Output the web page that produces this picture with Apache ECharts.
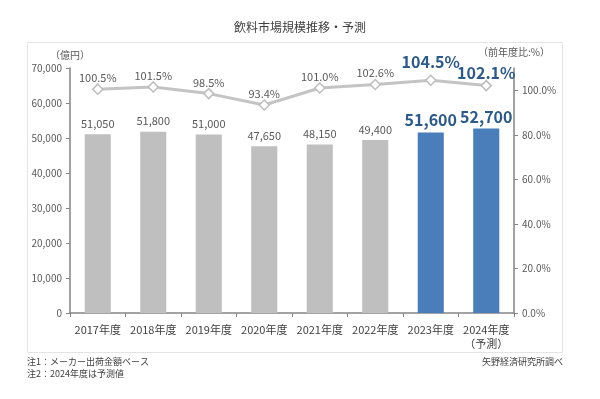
<!DOCTYPE html>
<html>
<head>
<meta charset="utf-8">
<script src="https://cdn.jsdelivr.net/npm/echarts@6/dist/echarts.min.js"></script>
<style>
    html, body { margin: 0; padding: 0; background: #fff; }
    #chart { width: 600px; height: 399px; }
</style>
</head>
<body>
<div id="chart"></div>
<script>
var years = ['2017年度', '2018年度', '2019年度', '2020年度', '2021年度', '2022年度', '2023年度', '2024年度\n（予測）'];
var marketSize = [51050, 51800, 51000, 47650, 48150, 49400, 51600, 52700];
var yoyRatio = [100.5, 101.5, 98.5, 93.4, 101.0, 102.6, 104.5, 102.1];
var highlightFrom = 6; // 2023年度以降は青

var FONT = '"Noto Sans CJK JP", "Noto Sans", sans-serif';
var GRAY_BAR = '#bfbfbf';
var BLUE_BAR = '#4a7ebb';
var BLUE_TEXT = '#2c5a8c';
var TEXT = '#595959';
var AXIS = '#858585';

var barData = marketSize.map(function(v, i) {
    var hi = i >= highlightFrom;
    return {
        value: v,
        itemStyle: { color: hi ? BLUE_BAR : GRAY_BAR },
        label: hi ? { fontSize: 16, fontWeight: 'bold', color: BLUE_TEXT, distance: 4 } : {}
    };
});

var lineData = yoyRatio.map(function(v, i) {
    var hi = i >= highlightFrom;
    return {
        value: v,
        // 2024年度のラベルは元図では点に近い位置
        label: hi ? { fontSize: 16, fontWeight: 'bold', color: BLUE_TEXT, distance: i === 7 ? -1 : 5 } : {}
    };
});

var chart = echarts.init(document.getElementById('chart'));
chart.setOption({
    animation: false,
    textStyle: { fontFamily: FONT },
    title: {
        text: '飲料市場規模推移・予測',
        left: 'center',
        top: 16,
        textStyle: { fontSize: 12, fontWeight: 'normal', color: '#404040', fontFamily: FONT }
    },
    graphic: [
        {
            type: 'rect',
            shape: { x: 27.5, y: 42.5, width: 535, height: 310 },
            style: { fill: 'none', stroke: '#e4e4e4', lineWidth: 1 },
            z: -1
        },
        { type: 'text', left: 50, top: 50, style: { text: '（億円）', fontSize: 10, fill: TEXT, fontFamily: FONT } },
        { type: 'text', left: 478, top: 47, style: { text: '（前年度比:%）', fontSize: 10, fill: TEXT, fontFamily: FONT } },
        { type: 'text', left: 27, top: 357, style: { text: '注1：メーカー出荷金額ベース', fontSize: 9, fill: '#404040', fontFamily: FONT } },
        { type: 'text', left: 27, top: 369, style: { text: '注2：2024年度は予測値', fontSize: 9, fill: '#404040', fontFamily: FONT } },
        { type: 'text', right: 37, top: 357, style: { text: '矢野経済研究所調べ', fontSize: 9, fill: '#404040', fontFamily: FONT } }
    ],
    grid: { left: 70, right: 86, top: 68, bottom: 86 },
    xAxis: {
        type: 'category',
        data: years,
        axisLine: { lineStyle: { color: AXIS, width: 1.5 } },
        axisTick: { show: true, length: 4, lineStyle: { color: AXIS } },
        axisLabel: { interval: 0, color: '#404040', fontSize: 11, margin: 10, lineHeight: 14 }
    },
    yAxis: [
        {
            type: 'value',
            min: 0,
            max: 70000,
            interval: 10000,
            splitLine: { show: false },
            axisLine: { show: true, lineStyle: { color: AXIS, width: 1.5 } },
            axisTick: { show: true, length: 4, lineStyle: { color: AXIS } },
            axisLabel: {
                color: TEXT,
                fontSize: 10,
                formatter: function(v) { return v.toLocaleString('en-US'); }
            }
        },
        {
            type: 'value',
            min: 0,
            max: 110,
            interval: 20,
            splitLine: { show: false },
            axisLine: { show: true, lineStyle: { color: AXIS, width: 1.5 } },
            axisTick: { show: true, length: 4, lineStyle: { color: AXIS } },
            axisLabel: {
                color: TEXT,
                fontSize: 10,
                showMaxLabel: false,
                formatter: function(v) { return v > 105 ? '' : v.toFixed(1) + '%'; }
            }
        }
    ],
    series: [
        {
            type: 'bar',
            yAxisIndex: 0,
            barWidth: '47%',
            data: barData,
            label: {
                show: true,
                position: 'top',
                distance: 5,
                color: TEXT,
                fontSize: 11,
                formatter: function(p) { return p.value.toLocaleString('en-US'); }
            }
        },
        {
            type: 'line',
            yAxisIndex: 1,
            data: lineData,
            symbol: 'diamond',
            symbolSize: 10,
            lineStyle: { color: '#c4c4c4', width: 3 },
            itemStyle: { color: '#fff', borderColor: '#bdbdbd', borderWidth: 1.5 },
            label: {
                show: true,
                position: 'top',
                distance: 0,
                color: TEXT,
                fontSize: 11,
                formatter: function(p) { return p.value.toFixed(1) + '%'; }
            }
        }
    ]
});
</script>
</body>
</html>
